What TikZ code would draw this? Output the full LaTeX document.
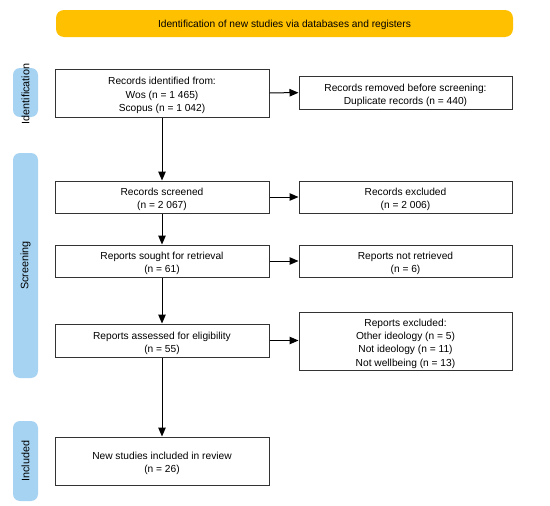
\documentclass[tikz,border=0pt]{standalone}
\usepackage{fontspec}
\setmainfont{Liberation Sans}
\usetikzlibrary{arrows.meta}
\definecolor{barorange}{HTML}{FFC000}
\definecolor{barblue}{HTML}{A6D3F2}
\definecolor{boxline}{HTML}{333333}
\newcommand\topstrut{\rule{0pt}{12.5pt}}
\begin{document}
\begin{tikzpicture}[x=1pt,y=-1pt,
  box/.style={draw=boxline,line width=1pt,fill=white,align=center,inner sep=0pt,font=\fontsize{10.2}{13.3}\selectfont},
  phase/.style={fill=barblue,rounded corners=7pt,draw=none},
  phaselabel/.style={rotate=90,font=\fontsize{10.8}{12}\selectfont},
  arr/.style={-{Triangle[length=9pt,width=7.5pt]},line width=1pt,draw=black}]
\useasboundingbox (0,0) rectangle (550,506);
% top banner
\node[fill=barorange,rounded corners=8pt,minimum width=457pt,minimum height=27pt,inner sep=0pt,font=\fontsize{10.2}{12}\selectfont] (top) at (284.5,23.5) {\rule{0pt}{11pt}Identification of new studies via databases and registers};
% phase bars
\node[phase,minimum width=25pt,minimum height=49pt,inner sep=0pt] (pid) at (25.5,92.5) {};
\node[phaselabel] (lid) at (25.5,94) {Identification};
\node[phase,minimum width=25pt,minimum height=225pt,inner sep=0pt] (psc) at (25.5,265.5) {};
\node[phaselabel] (lsc) at (25.5,265.5) {Screening};
\node[phase,minimum width=25pt,minimum height=80pt,inner sep=0pt] (pin) at (25.5,461) {};
\node[phaselabel] (lin) at (25.5,461) {Included};
% left boxes
\node[box,minimum width=214pt,minimum height=48pt] (b1) at (162,93) {\topstrut Records identified from:\\Wos (n = 1 465)\\Scopus (n = 1 042)};
\node[box,minimum width=214pt,minimum height=32pt] (b2) at (162,197) {\topstrut Records screened\\(n = 2 067)};
\node[box,minimum width=214pt,minimum height=32pt] (b3) at (162,261) {\topstrut Reports sought for retrieval\\(n = 61)};
\node[box,minimum width=214pt,minimum height=33pt] (b4) at (162,340.5) {\topstrut Reports assessed for eligibility\\(n = 55)};
\node[box,minimum width=214pt,minimum height=48pt] (b5) at (162,461) {\topstrut New studies included in review\\(n = 26)};
% right boxes
\node[box,minimum width=213pt,minimum height=33pt] (r1) at (405.5,92.5) {\topstrut Records removed before screening:\\Duplicate records (n = 440)};
\node[box,minimum width=213pt,minimum height=32pt] (r2) at (405.5,197) {\topstrut Records excluded\\(n = 2 006)};
\node[box,minimum width=213pt,minimum height=32pt] (r3) at (405.5,261) {\topstrut Reports not retrieved\\(n = 6)};
\node[box,minimum width=213pt,minimum height=58pt] (r4) at (405.5,341) {\topstrut Reports excluded:\\Other ideology (n = 5)\\Not ideology (n = 11)\\Not wellbeing (n = 13)};
% arrows
\draw[arr] (b1) -- (b2);
\draw[arr] (b2) -- (b3);
\draw[arr] (b3) -- (b4);
\draw[arr] (b4) -- (b5);
\draw[arr] (b1) -- (r1);
\draw[arr] (b2) -- (r2);
\draw[arr] (b3) -- (r3);
\draw[arr] (b4.east) -- (b4.east -| r4.west);
\end{tikzpicture}
\end{document}
